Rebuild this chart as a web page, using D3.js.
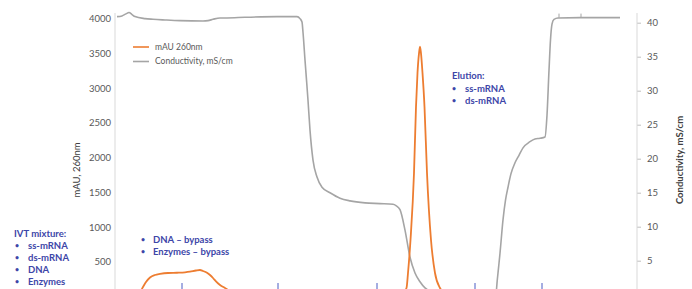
<!DOCTYPE html>
<html>
<head>
<meta charset="utf-8">
<script src="https://cdn.jsdelivr.net/npm/d3@7"></script>
<style>
  body { margin: 0; background: #fff; }
  svg { display: block; overflow: hidden; font-family: Lato, "Open Sans", sans-serif; }
</style>
</head>
<body>
<div id="chart"></div>
<script>
// run volume (mL) vs UV absorbance
var uvVolume = [0, 3.0, 4.2, 5.0, 5.6, 6.2, 7.0, 8.0, 9.0, 10.6, 12.4, 14.0, 15.0, 16.2, 17.0, 17.6, 18.4, 19.0, 19.6, 20.2, 21.0, 22.0, 23.0, 24.6, 27.0, 31.0,
                56.2, 57.2, 57.8, 58.3, 58.6, 59.1, 59.8, 60.2, 60.5, 60.8, 61.0, 61.2, 61.5, 61.9, 62.4, 63.2, 64.0, 65.0, 66.0, 67.4, 69.0, 101.0];
var uvValue = [0, 0, 30, 63, 135, 207, 272, 308, 323, 337, 341, 347, 356, 373, 380, 366, 341, 308, 265, 215, 164, 121, 78, 35, 10, 0,
               0, 25, 70, 121, 337, 813, 1778, 2732, 3219, 3500, 3598, 3500, 3219, 2732, 1778, 813, 337, 121, 45, 12, 0, 0];

// run volume (mL) vs conductivity
var condVolume = [0.4, 1.4, 2.2, 2.8, 3.4, 4.0, 6.0, 7.6, 10.0, 13.0, 17.6, 18.6, 19.6, 21.0, 22.4, 26.0, 32.4, 36.4, 37.0, 37.4, 37.6, 38.0, 38.3, 38.6, 39.0, 39.6, 40.4, 41.4, 43.0, 45.0, 47.0, 50.0, 53.0, 55.6, 56.2, 57.0, 58.0, 59.0, 60.0, 61.0, 62.0, 63.4, 65.0, 76.0,
                  76.3, 76.4, 76.7, 77.0, 77.6, 78.1, 78.6, 79.2, 80.0, 80.8, 81.6, 83.0, 84.0, 85.0, 86.0, 86.4, 86.8, 87.1, 87.4, 87.8, 88.6, 93.0, 101.0];
var condValue = [40.9, 41.0, 41.3, 41.5, 41.2, 40.9, 40.6, 40.5, 40.4, 40.3, 40.25, 40.3, 40.5, 40.7, 40.7, 40.8, 40.9, 40.9, 40.6, 40.1, 38.6, 34.5, 31.6, 28.6, 24.2, 19.8, 17.3, 15.8, 15.0, 14.2, 13.8, 13.5, 13.4, 13.3, 13.1, 12.5, 9.5, 5.5, 3.2, 1.9, 1.0, 0.4, 0, 0,
                 0.8, 1.7, 3.9, 6.1, 11.0, 13.9, 15.8, 17.8, 19.4, 20.5, 21.6, 22.5, 22.9, 23.0, 23.2, 26.4, 33.0, 37.5, 39.8, 40.5, 40.7, 40.75, 40.75];

// the 0 ticks fall below the visible frame
var uvTicks = [500, 1000, 1500, 2000, 2500, 3000, 3500, 4000];
var condTicks = [5, 10, 15, 20, 25, 30, 35, 40];
var fractionMarks = [13.4, 32.6, 52.4, 72.0, 85.4];
var eventMarks = [88.8, 93.2];

var legendItems = ['mAU 260nm', 'Conductivity, mS/cm'];
var ivtNotes = ['ss-mRNA', 'ds-mRNA', 'DNA', 'Enzymes'];
var bypassNotes = ['DNA \u2013 bypass', 'Enzymes \u2013 bypass'];
var elutionNotes = ['ss-mRNA', 'ds-mRNA'];

var width = 692, height = 289;
var orange = '#ED7D31', grey = '#A5A5A5', noteBlue = '#3D46A8', labelColor = '#595959';

var svg = d3.select('#chart').append('svg')
    .attr('width', width)
    .attr('height', height);

var x = d3.scaleLinear().domain([0, 105]).range([115, 640]);
var yUv = d3.scaleLinear().domain([0, 4000]).range([296.4, 18.7]);
var yCond = d3.scaleLinear().domain([0, 40]).range([294.7, 22.7]);

// axes
var leftAxis = svg.append('g')
    .attr('transform', 'translate(115,0)')
    .call(d3.axisLeft(yUv).tickValues(uvTicks).tickFormat(d3.format('d')).tickSize(0).tickPadding(4));
leftAxis.select('.domain').remove();
leftAxis.append('line')
    .attr('y1', 13).attr('y2', 300)
    .attr('stroke', '#d9d9d9');

var rightAxis = svg.append('g')
    .attr('transform', 'translate(637,0)')
    .call(d3.axisRight(yCond).tickValues(condTicks).tickFormat(d3.format('d')).tickSize(4).tickPadding(6));
rightAxis.select('.domain').remove();
rightAxis.append('line')
    .attr('y1', 13).attr('y2', 300)
    .attr('stroke', '#d9d9d9');
rightAxis.selectAll('.tick line').attr('stroke', '#bfbfbf');

svg.selectAll('.tick text')
    .attr('fill', labelColor)
    .style('font-size', '9.5px')
    .style('font-family', 'Lato, sans-serif');

svg.append('text')
    .attr('transform', 'translate(80,170) rotate(-90)')
    .attr('text-anchor', 'middle')
    .attr('fill', '#404040')
    .style('font-size', '9.5px')
    .text('mAU, 260nm');

svg.append('text')
    .attr('transform', 'translate(683,160) rotate(-90)')
    .attr('text-anchor', 'middle')
    .attr('fill', '#404040')
    .style('font-size', '9.5px')
    .style('font-weight', 'bold')
    .text('Conductivity, mS/cm');

// markers along the bottom
svg.append('g').selectAll('line')
    .data(fractionMarks)
    .join('line')
    .attr('x1', function(d){ return x(d); })
    .attr('x2', function(d){ return x(d); })
    .attr('y1', 283).attr('y2', 296)
    .attr('stroke', '#4a5cc4')
    .attr('stroke-width', 1);

// lines
var condLine = d3.line()
    .x(function(d, i){ return x(condVolume[i]); })
    .y(function(d){ return yCond(d); })
    .curve(d3.curveMonotoneX);

var uvLine = d3.line()
    .x(function(d, i){ return x(uvVolume[i]); })
    .y(function(d){ return yUv(d); })
    .curve(d3.curveMonotoneX);

svg.append('path')
    .attr('d', condLine(condValue))
    .attr('fill', 'none')
    .attr('stroke', grey)
    .attr('stroke-width', 1.6);

svg.append('g').selectAll('line')
    .data(eventMarks)
    .join('line')
    .attr('x1', function(d){ return x(d); })
    .attr('x2', function(d){ return x(d); })
    .attr('y1', yCond(40.75) - 4).attr('y2', yCond(40.75))
    .attr('stroke', grey);

svg.append('path')
    .attr('d', uvLine(uvValue))
    .attr('fill', 'none')
    .attr('stroke', orange)
    .attr('stroke-width', 1.8);

// legend
var legend = svg.append('g').attr('transform', 'translate(133,47)');
legend.selectAll('line')
    .data(legendItems)
    .join('line')
    .attr('x1', 0).attr('x2', 16)
    .attr('y1', function(d, i){ return i * 14.5; })
    .attr('y2', function(d, i){ return i * 14.5; })
    .attr('stroke', function(d, i){ return i === 0 ? orange : grey; })
    .attr('stroke-width', 1.6);
legend.selectAll('text')
    .data(legendItems)
    .join('text')
    .attr('x', 22)
    .attr('y', function(d, i){ return i * 14.5; })
    .attr('dy', '0.35em')
    .attr('fill', labelColor)
    .style('font-size', '8.5px')
    .text(function(d){ return d; });

// notes
function bulletList(gx, gy, title, items, bulletX, textX, lineH) {
    var g = svg.append('g')
        .attr('transform', 'translate(' + gx + ',' + gy + ')')
        .attr('fill', noteBlue)
        .style('font-size', '9.5px')
        .style('font-weight', 'bold');
    var offset = 0;
    if (title) {
        g.append('text').attr('x', 0).attr('y', 0).attr('dy', '0.35em').text(title);
        offset = lineH;
    }
    items.forEach(function(t, i){
        var yy = offset + i * lineH;
        g.append('text').attr('x', bulletX).attr('y', yy).attr('dy', '0.35em')
            .style('font-size', '7px').text('\u2022');
        g.append('text').attr('x', textX).attr('y', yy).attr('dy', '0.35em').text(t);
    });
}

bulletList(14, 234, 'IVT mixture:', ivtNotes, 1, 14, 12);
bulletList(141, 240, null, bypassNotes, 0, 12, 12);
bulletList(452, 76, 'Elution:', elutionNotes, 0, 13, 12.5);
</script>
</body>
</html>
